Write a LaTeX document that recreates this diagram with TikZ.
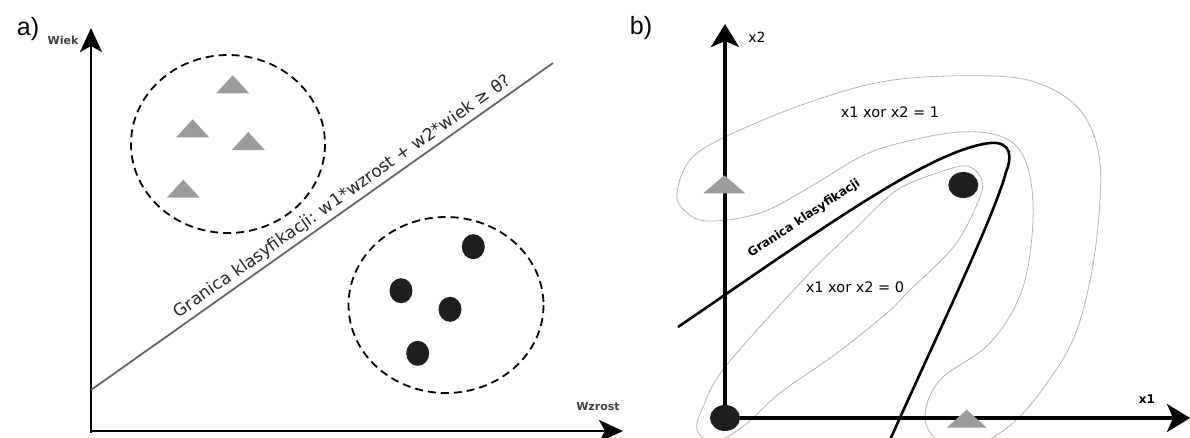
\documentclass[tikz,border=0pt]{standalone}
\usepackage{fontspec}
\setmainfont{DejaVu Sans}
\newfontfamily\panelfont{Liberation Sans}
\usepackage{tikz}
\usetikzlibrary{arrows.meta, positioning}
\usepackage{xcolor}
\definecolor{markgray}{RGB}{155,155,155}
\definecolor{dotblack}{RGB}{30,30,30}
\definecolor{linegray}{RGB}{100,100,100}

% gray triangle marker, base centre at #1, base width #2
\newcommand{\trimark}[2]{\fill[markgray] (#1) ++(-#2/2,0) -- ++(#2,0) -- ++(-#2/2,-18) -- cycle;}

\begin{document}
\begin{tikzpicture}[x=1pt,y=-1pt,
  axisa/.style={line width=2.6pt,-{Stealth[length=24pt,width=22pt,inset=6pt]}},
  axisb/.style={line width=3.6pt,-{Stealth[length=23pt,width=28pt,inset=6pt]}},
  cluster/.style={line width=1.8pt,dash pattern=on 8pt off 5pt},
  contour/.style={line width=0.8pt,gray!70,dash pattern=on 1.2pt off 0.5pt},
  smallax/.style={font=\bfseries\fontsize{11}{11}\selectfont,text=black!75},
  xorlab/.style={font=\fontsize{14.5}{14.5}\selectfont}]
  \useasboundingbox (0,0) rectangle (1190,437);

  % a) linear boundary
  \node[font=\panelfont\fontsize{25}{25}\selectfont] (la) at (28,29) {a)};
  \node[smallax] (wiek) at (63,40) {Wiek};
  \node[smallax] (wzrost) at (598,407) {Wzrost};
  \coordinate (Oa) at (91,433);
  \coordinate (Ya) at (91,28);
  \coordinate (Xa) at (623,431);
  \coordinate (La) at (91,390);
  \coordinate (Lb) at (553,63);
  \draw[axisa] (Oa) -- (Ya);
  \draw[axisa] (91,431) -- (Xa);
  \draw[linegray,line width=1.8pt] (La) -- (Lb)
    node[pos=0.56,sloped,above,inner sep=3pt,text=black!85,
    font=\fontsize{17}{17}\selectfont]
    (granica) {Granica klasyfikacji: w1*wzrost + w2*wiek ≥ θ?};

  \draw[cluster] (228,144) ellipse [x radius=97, y radius=89];
  \draw[cluster] (446,305) ellipse [x radius=97.5, y radius=88];
  \trimark{232.7,93.3}{33}
  \trimark{192.7,137.3}{33}
  \trimark{248.3,150}{33}
  \trimark{183.3,197.7}{33}
  \foreach \p in {(473.3,246.7),(401,290.7),(450,309.3),(417.7,353.3)}
    \fill[dotblack] \p ellipse [x radius=11.5, y radius=12.5];

  % b) xor
  \node[font=\panelfont\fontsize{25}{25}\selectfont] (lb) at (641,28) {b)};
  \node[font=\fontsize{14}{14}\selectfont] (x2) at (757,37) {x2};
  \node[font=\bfseries\fontsize{12}{12}\selectfont] (x1) at (1147,399) {x1};
  \coordinate (Ob) at (725,420);
  \coordinate (Yb) at (725,24);
  \coordinate (Xb) at (1190,418);

  \draw[contour] plot[smooth cycle,tension=0.6] coordinates {
    (677,193) (690,160) (727,136) (810,102) (893,80) (993,76) (1043,85)
    (1080,110) (1098,150) (1100,200) (1092,270) (1075,335) (1047,383)
    (1013,423) (975,445) (940,442) (925,417) (940,380) (990,343)
    (1022,290) (1033,220) (1027,165) (1005,138) (960,132) (900,143)
    (860,157) (810,187) (760,213) (707,221) (684,210)};
  \draw[contour] plot[smooth cycle,tension=0.55] coordinates {
    (967,166) (981,178) (980,197) (955,245) (910,290) (887,313)
    (837,353) (780,393) (745,425) (715,442) (697,430) (703,407)
    (725,367) (803,280) (857,227) (897,190) (940,172)};

  \draw[axisb] (Ob) -- (Yb);
  \draw[axisb] (725,418) -- (Xb);

  \draw[line width=2.6pt] (678,327) .. controls (820,230) and (930,150) .. (990,143)
    .. controls (1012,141) and (1012,158) .. (1006,172)
    .. controls (995,215) and (930,350) .. (890,440);
  \node[rotate=33.5,anchor=base,inner sep=0pt,
    font=\bfseries\fontsize{12}{12}\selectfont] (granicab) at (806,221)
    {Granica klasyfikacji};

  \node[xorlab] (xor1) at (890,112) {x1 xor x2 = 1};
  \node[xorlab] (xor0) at (855,287) {x1 xor x2 = 0};

  \trimark{724.3,193.3}{42}
  \trimark{966.7,427.7}{40}
  \fill[dotblack] (725,418) ellipse [x radius=15, y radius=13];
  \fill[dotblack] (963.3,185) ellipse [x radius=15, y radius=13];
\end{tikzpicture}
\end{document}
